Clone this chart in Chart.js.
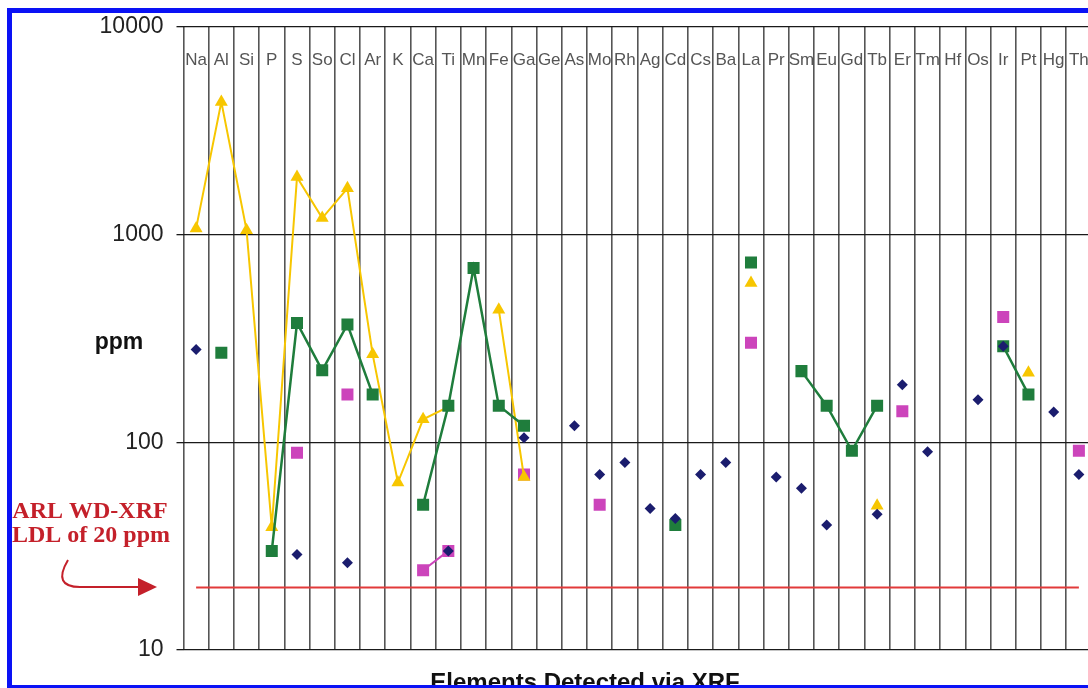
<!DOCTYPE html>
<html>
<head>
<meta charset="utf-8">
<script src="https://cdn.jsdelivr.net/npm/chart.js@4.4.0/dist/chart.umd.min.js"></script>
<style>
  html, body { margin: 0; padding: 0; background: #fff; overflow: hidden; }
  #wrap { position: absolute; left: 0; top: 0; width: 1100px; height: 688px; }
  #frame { position: absolute; left: 7px; top: 8px; width: 1200px; height: 672px;
           border: 5px solid #0a12f5; pointer-events: none; }
</style>
</head>
<body>
<div id="wrap"><canvas id="myChart"></canvas></div>
<div id="frame"></div>
<script>
// Elements along the x axis
var categories = ['Na', 'Al', 'Si', 'P', 'S', 'So', 'Cl', 'Ar', 'K', 'Ca', 'Ti', 'Mn', 'Fe', 'Ga', 'Ge', 'As',
  'Mo', 'Rh', 'Ag', 'Cd', 'Cs', 'Ba', 'La', 'Pr', 'Sm', 'Eu', 'Gd', 'Tb', 'Er', 'Tm', 'Hf', 'Os', 'Ir', 'Pt', 'Hg', 'Th'];

// ppm values (null = not detected)
var navyDiamonds = [280, null, null, null, 28.8, null, 26.3, null, null, null, 30, null, null, 105, null, 120,
  70, 80, 48, 43, 70, 80, null, 68, 60, 40, null, 45, 189, 90, null, 160, 290, null, 140, 70];
var greenSquares = [null, 270, null, 30, 375, 222, 369, 170, null, 50, 150, 690, 150, 120, null, null,
  null, null, null, 40, null, null, 734, null, 220, 150, 91, 150, null, null, null, null, 290, 170, null, null];
var yellowTriangles = [1070, 4350, 1050, 39, 1890, 1200, 1670, 265, 64, 129, 148, null, 435, 68, null, null,
  null, null, null, null, null, null, 584, null, null, null, null, 49.5, null, null, null, null, null, 216, null, null];
var pinkSquares = [null, null, null, null, 89, null, 170, null, null, 24.2, 30, null, null, 70, null, null,
  50, null, null, null, null, null, 301, null, null, null, null, null, 141, null, null, null, 401, null, null, 91];

var LDL = 20;
var ldlLine = categories.map(function () { return LDL; });

var yTicks = [10, 100, 1000, 10000];

// extra text drawn on the canvas
var decor = {
  id: 'decor',
  afterDraw: function (chart) {
    var ctx = chart.ctx;
    var x = chart.scales.x;
    var area = chart.chartArea;
    ctx.save();
    ctx.textAlign = 'center';
    ctx.textBaseline = 'alphabetic';

    // element names along the top of the plot
    ctx.fillStyle = '#555';
    ctx.font = '17px "Liberation Sans", Arial, sans-serif';
    categories.forEach(function (c, i) {
      ctx.fillText(c, x.getPixelForValue(i), area.top + 38);
    });

    ctx.fillStyle = '#111';
    ctx.font = 'bold 23px "Liberation Sans", Arial, sans-serif';
    ctx.fillText('ppm', 119, 349);
    ctx.font = 'bold 24px "Liberation Sans", Arial, sans-serif';
    ctx.fillText('Elements Detected via XRF', 585, 690);

    // LDL note and arrow
    ctx.fillStyle = '#c4202a';
    ctx.font = 'bold 24px "Liberation Serif", "Times New Roman", serif';
    ctx.fillText('ARL WD-XRF', 90, 518);
    ctx.fillText('LDL of 20 ppm', 91, 542);

    ctx.strokeStyle = '#c4202a';
    ctx.lineWidth = 2;
    ctx.beginPath();
    ctx.moveTo(68, 560);
    ctx.quadraticCurveTo(52, 587, 80, 587);
    ctx.lineTo(140, 587);
    ctx.stroke();
    ctx.beginPath();
    ctx.moveTo(138, 578);
    ctx.lineTo(157, 587);
    ctx.lineTo(138, 596);
    ctx.closePath();
    ctx.fill();
    ctx.restore();
  }
};

var data = {
  labels: categories,
  datasets: [
    {
      data: navyDiamonds, showLine: false,
      pointStyle: 'rectRot', pointRadius: 5.5, pointHoverRadius: 5.5,
      backgroundColor: '#1b1d6e', borderColor: '#1b1d6e', pointBorderWidth: 0
    },
    {
      data: greenSquares, borderColor: '#1f7d3c', borderWidth: 2.5,
      pointStyle: 'rect', pointRadius: 8.5, pointHoverRadius: 8.5,
      backgroundColor: '#1f7d3c', pointBorderWidth: 0
    },
    {
      data: yellowTriangles, borderColor: '#f7c600', borderWidth: 2,
      pointStyle: 'triangle', pointRadius: 7.5, pointHoverRadius: 7.5,
      backgroundColor: '#f7c600', pointBorderWidth: 0
    },
    {
      data: pinkSquares, borderColor: '#cc44bb', borderWidth: 2,
      pointStyle: 'rect', pointRadius: 8.5, pointHoverRadius: 8.5,
      backgroundColor: '#cc44bb', pointBorderWidth: 0
    },
    {
      data: ldlLine, borderColor: '#e23a3a', borderWidth: 2,
      pointRadius: 0, pointHoverRadius: 0
    }
  ]
};

var config = {
  type: 'line',
  data: data,
  plugins: [decor],
  options: {
    animation: false,
    responsive: true,
    maintainAspectRatio: false,
    devicePixelRatio: 1,
    layout: { padding: { top: 25, right: 6.4, bottom: 0, left: 0 } },
    elements: { line: { tension: 0 } },
    plugins: {
      legend: { display: false },
      tooltip: { enabled: false }
    },
    scales: {
      x: {
        type: 'category',
        offset: true,
        grid: { offset: true, color: '#555', lineWidth: 1.6, drawTicks: false },
        border: { display: false },
        ticks: { display: false },
        afterFit: function (scale) { scale.height = 38; }
      },
      y: {
        type: 'logarithmic',
        min: 10,
        max: 10000,
        afterBuildTicks: function (scale) {
          scale.ticks = yTicks.map(function (v) { return { value: v }; });
        },
        afterFit: function (scale) { scale.width = 183.5; },
        grid: { color: '#1a1a1a', lineWidth: 1.3, tickLength: 7 },
        border: { display: false },
        ticks: {
          padding: 13,
          color: '#222',
          font: { family: '"Liberation Sans", Arial, sans-serif', size: 23 },
          callback: function (v) { return String(v); }
        }
      }
    }
  }
};

var myChart = new Chart(document.getElementById('myChart'), config);
</script>
</body>
</html>
